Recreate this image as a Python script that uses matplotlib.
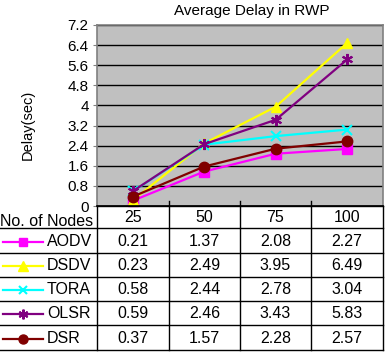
import matplotlib
matplotlib.use("Agg")
import matplotlib.pyplot as plt

plt.rcParams['font.family'] = ['Liberation Sans', 'DejaVu Sans']

# data
nodes = ["25", "50", "75", "100"]
aodv = [0.21, 1.37, 2.08, 2.27]
dsdv = [0.23, 2.49, 3.95, 6.49]
tora = [0.58, 2.44, 2.78, 3.04]
olsr = [0.59, 2.46, 3.43, 5.83]
dsr = [0.37, 1.57, 2.28, 2.57]
yticks = [0, 0.8, 1.6, 2.4, 3.2, 4, 4.8, 5.6, 6.4, 7.2]

series = [
    ("AODV", aodv, "#FF00FF", "s", 6.5),
    ("DSDV", dsdv, "#FFFF00", "^", 7.5),
    ("TORA", tora, "#00FFFF", "x", 6.5),
    ("OLSR", olsr, "#800080", (6, 2, 0), 8),
    ("DSR", dsr, "#800000", "o", 7.5),
]

W, H = 389, 354
fig = plt.figure(figsize=(W / 100, H / 100), dpi=100)

# plot area in pixel terms
L, R, T, B = 97, 383, 25, 206
ax = fig.add_axes([L / W, 1 - B / H, (R - L) / W, (B - T) / H])
ax.set_facecolor("#C0C0C0")
x = range(len(nodes))
for name, vals, col, mk, ms in series:
    ax.plot(x, vals, color=col, marker=mk, markersize=ms, linewidth=1.6,
            markeredgewidth=1.5 if mk == "x" or isinstance(mk, tuple) else 1,
            markeredgecolor=col, clip_on=False)
ax.set_xlim(-0.5, len(nodes) - 0.5)
ax.set_ylim(0, 7.2)
ax.set_yticks(yticks)
ax.set_yticklabels([f"{v:g}" for v in yticks], fontsize=11)
ax.set_xticks([])
ax.yaxis.grid(True, color="black", linewidth=1)
ax.set_axisbelow(True)
for s in ax.spines.values():
    s.set_color("#808080")
    s.set_linewidth(1.2)
ax.spines["bottom"].set_color("black")
ax.tick_params(axis="y", length=3, color="#808080", pad=3)
ax.set_ylabel("Delay(sec)", fontsize=10.5)
ax.yaxis.set_label_coords((35 - L) / (R - L), 0.45)
fig.text(252 / W, 1 - 11 / H, "Average Delay in RWP", ha="center", va="center", fontsize=11)

# data table below the chart
ov = fig.add_axes([0, 0, 1, 1])
ov.set_xlim(0, W)
ov.set_ylim(H, 0)
ov.axis("off")
ov.patch.set_alpha(0)

col_edges = [97, 169, 240, 311, 383]
row_edges = [228, 253, 277, 301, 325, 350]
for xe in col_edges:
    ov.plot([xe, xe], [201 if xe not in (97, 383) else B, row_edges[-1]], color="black", lw=1)
ov.plot([97, 383], [B, B], color="black", lw=1)
for ye in row_edges:
    ov.plot([0, 383], [ye, ye], color="black", lw=1)

fs = 11.5
ov.text(93, 221, "No. of Nodes", ha="right", va="center", fontsize=fs)
for i, lab in enumerate(nodes):
    cx = (col_edges[i] + col_edges[i + 1]) / 2
    ov.text(cx, (B + row_edges[0]) / 2 + 1, lab, ha="center", va="center", fontsize=fs)

for r, (name, vals, col, mk, ms) in enumerate(series):
    cy = (row_edges[r] + row_edges[r + 1]) / 2 + 1
    ov.plot([3, 43], [cy, cy], color=col, lw=1.6)
    ov.plot([23], [cy], color=col, marker=mk, markersize=ms - 1,
            markeredgewidth=1.5 if mk == "x" or isinstance(mk, tuple) else 1,
            markeredgecolor=col)
    ov.text(47, cy, name, ha="left", va="center", fontsize=fs)
    for i, v in enumerate(vals):
        cx = (col_edges[i] + col_edges[i + 1]) / 2
        ov.text(cx, cy, f"{v:.2f}", ha="center", va="center", fontsize=fs)

fig.savefig("out.png", dpi=100)
